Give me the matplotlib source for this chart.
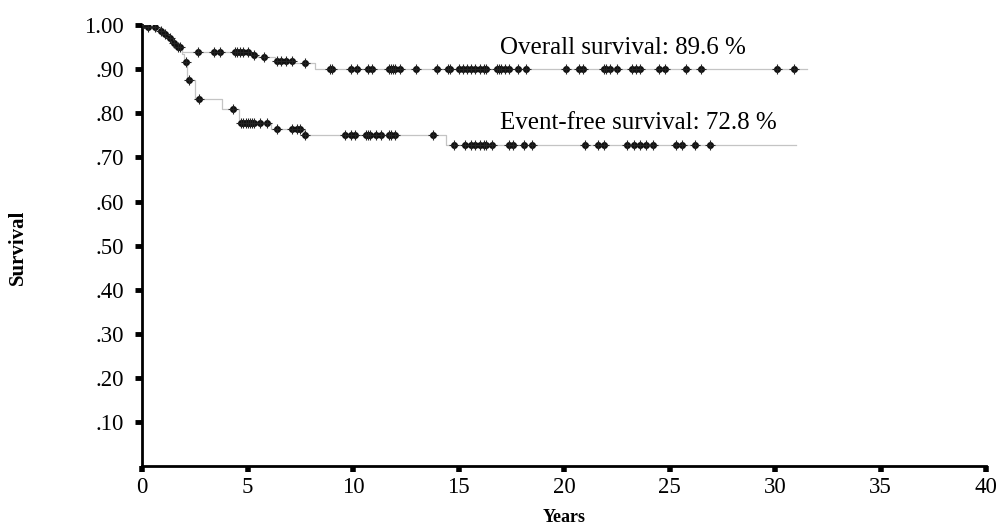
import numpy as np
import matplotlib
matplotlib.use("Agg")
from matplotlib import pyplot as plt

# step functions (time in years, survival)
os_times = [0, 0.3, 0.8, 1.0, 1.2, 1.4, 1.6, 1.9, 5.1, 5.5, 6.3, 7.2, 8.2, 31.5]
os_surv = [1.0, 0.995, 0.988, 0.98, 0.97, 0.96, 0.95, 0.94, 0.933, 0.927, 0.92, 0.914, 0.90, 0.90]

efs_times = [0, 0.3, 0.8, 1.0, 1.2, 1.4, 1.6, 1.9, 2.0, 2.15, 2.5, 3.8, 4.6, 6.1, 7.65, 14.4, 31.0]
efs_surv = [1.0, 0.995, 0.988, 0.98, 0.97, 0.96, 0.95, 0.935, 0.916, 0.875, 0.832, 0.81, 0.778,
            0.764, 0.75, 0.728, 0.728]

# censored observations
os_censor = [0.05, 0.3, 0.6, 0.9, 1.1, 1.3, 1.5, 1.7, 1.8, 2.65, 3.4, 3.7, 4.4, 4.5, 4.65, 4.8,
             5.0, 5.3, 5.8, 6.4, 6.6, 6.8, 7.1, 7.7, 8.9, 9.0, 9.9, 10.2, 10.7, 10.9, 11.7, 11.8,
             11.9, 12.0, 12.2, 13.0, 14.0, 14.5, 14.6, 15.0, 15.2, 15.4, 15.6, 15.8, 16.0, 16.2,
             16.3, 16.8, 16.9, 17.0, 17.2, 17.4, 17.8, 18.2, 20.1, 20.7, 20.9, 21.9, 22.0, 22.2,
             22.5, 23.2, 23.4, 23.6, 24.5, 24.8, 25.8, 26.5, 30.1, 30.9]
efs_censor = [2.1, 2.2, 2.7, 4.3, 4.7, 4.8, 4.9, 5.0, 5.1, 5.2, 5.3, 5.6, 5.9, 6.4, 7.1, 7.35,
              7.5, 7.7, 9.6, 9.9, 10.1, 10.6, 10.7, 10.8, 11.1, 11.3, 11.7, 11.8, 12.0, 13.8,
              14.8, 15.3, 15.6, 15.8, 16.0, 16.2, 16.3, 16.6, 17.4, 17.6, 18.1, 18.5, 21.0,
              21.6, 21.9, 23.0, 23.3, 23.6, 23.9, 24.2, 25.3, 25.6, 26.2, 26.9]

os_label = "Overall survival: 89.6 %"
efs_label = "Event-free survival: 72.8 %"

x_ticks = [0, 5, 10, 15, 20, 25, 30, 35, 40]
y_ticks = [0.1, 0.2, 0.3, 0.4, 0.5, 0.6, 0.7, 0.8, 0.9, 1.0]
y_labels = [".10", ".20", ".30", ".40", ".50", ".60", ".70", ".80", ".90", "1.00"]


def surv_at(times, surv, t):
    idx = np.searchsorted(times, t, side="right") - 1
    return np.array(surv)[idx]


plt.rcParams['font.family'] = ['Liberation Serif', 'DejaVu Serif']

fig = plt.figure(figsize=(10.01, 5.26), dpi=100)
ax = fig.add_axes([0.142, 0.114, 0.843, 0.838])

for times, surv, cens in [(os_times, os_surv, os_censor), (efs_times, efs_surv, efs_censor)]:
    ax.step(times, surv, where="post", color="#c4c4c4", lw=0.9, zorder=2)
    cy = surv_at(times, surv, cens)
    ax.plot(cens, cy, ls="none", marker="o", ms=4, color="#111111", zorder=3)
    ax.plot(cens, cy, ls="none", marker="+", ms=7, mew=0.8, color="#222222", zorder=3)

ax.text(16.95, 0.948, os_label, fontsize=18, va="center", ha="left")
ax.text(16.95, 0.778, efs_label, fontsize=18, va="center", ha="left")

ax.set_xlim(0, 40)
ax.set_ylim(0, 1.0)
ax.set_xticks(x_ticks)
ax.set_xticklabels([str(v) for v in x_ticks])
ax.set_yticks(y_ticks)
ax.set_yticklabels(y_labels)
ax.tick_params(axis="y", direction="out", length=5, width=3.5, labelsize=16.5, pad=8)
ax.tick_params(axis="x", direction="out", length=4, width=4, labelsize=16.5, pad=4)

for side in ["top", "right"]:
    ax.spines[side].set_visible(False)
for side in ["left", "bottom"]:
    ax.spines[side].set_linewidth(2)
ax.spines["left"].set_bounds(0, 1.0)

fig.text(0.564, 0.017, "Years", fontsize=13, fontweight="bold", ha="center", va="center")
fig.text(0.018, 0.53, "Survival", fontsize=15, fontweight="bold", ha="center", va="center",
         rotation=90)

fig.savefig("out.png", dpi=100)
